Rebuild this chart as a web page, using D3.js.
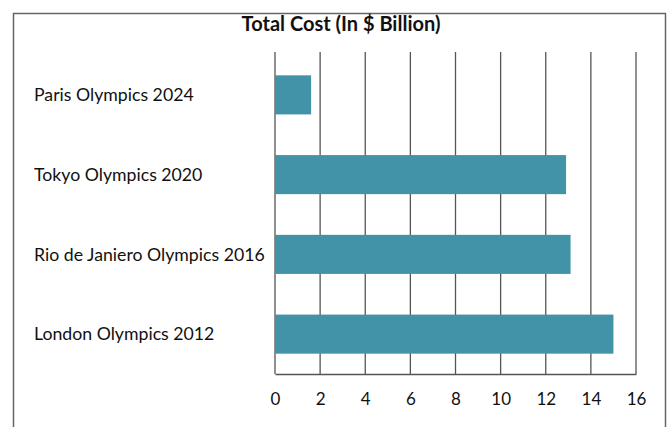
<!DOCTYPE html>
<html>
<head>
<meta charset="utf-8">
<script src="https://cdn.jsdelivr.net/npm/d3@7"></script>
<style>
  body { margin: 0; background: #fff; }
  text { font-family: Lato, "Open Sans", sans-serif; fill: #111; }
</style>
</head>
<body>
<svg id="chart"></svg>
<script>
// data
const games = ["Paris Olympics 2024", "Tokyo Olympics 2020", "Rio de Janiero Olympics 2016", "London Olympics 2012"];
const costs = [1.6, 12.9, 13.1, 15];
const xTicks = [0, 2, 4, 6, 8, 10, 12, 14, 16];
const chartTitle = "Total Cost (In $ Billion)";

const W = 671, H = 427;
const margin = {top: 55, right: 35, bottom: 52, left: 275};
const width = 636 - margin.left;
const height = 374 - margin.top;

const svg = d3.select('#chart').attr('width', W).attr('height', H);

// outer frame
svg.append('rect')
    .attr('x', 13.5).attr('y', 13.5)
    .attr('width', 652).attr('height', 430)
    .attr('fill', 'none')
    .attr('stroke', '#666')
    .attr('stroke-width', 1.5);

svg.append('text')
    .attr('x', 341).attr('y', 31)
    .attr('text-anchor', 'middle')
    .style('font-size', '20px')
    .style('font-weight', 'bold')
    .text(chartTitle);

const chart = svg.append('g')
    .attr('transform', `translate(${margin.left},${margin.top})`);

const xScale = d3.scaleLinear().domain([0, 16]).range([0, width]);
const yScale = d3.scaleBand().domain(games).range([0, height]).paddingInner(0.51).paddingOuter(0.255);

// gridlines
chart.selectAll('.grid')
    .data(xTicks)
    .join('line')
    .attr('class', 'grid')
    .attr('x1', d => xScale(d)).attr('x2', d => xScale(d))
    .attr('y1', -3).attr('y2', height)
    .attr('stroke', '#555')
    .attr('stroke-width', 1.3);

chart.selectAll('.bar')
    .data(costs)
    .join('rect')
    .attr('class', 'bar')
    .attr('x', 0)
    .attr('y', (d, i) => yScale(games[i]))
    .attr('width', d => xScale(d))
    .attr('height', yScale.bandwidth())
    .attr('fill', '#4393A8');

// x axis
const xAxis = d3.axisBottom(xScale).tickValues(xTicks).tickSize(0).tickPadding(19);
const xAxisG = chart.append('g')
    .attr('transform', `translate(0,${height})`)
    .call(xAxis);
xAxisG.select('.domain').attr('stroke', '#555').attr('stroke-width', 1.3);
xAxisG.selectAll('text').style('font-size', '17px').style('font-family', 'Lato, sans-serif').attr('fill', '#111');

// category labels, left aligned
chart.selectAll('.label')
    .data(games)
    .join('text')
    .attr('class', 'label')
    .attr('x', 34 - margin.left)
    .attr('y', d => yScale(d) + yScale.bandwidth() / 2)
    .attr('dy', '0.35em')
    .style('font-size', '17.7px')
    .text(d => d);
</script>
</body>
</html>
